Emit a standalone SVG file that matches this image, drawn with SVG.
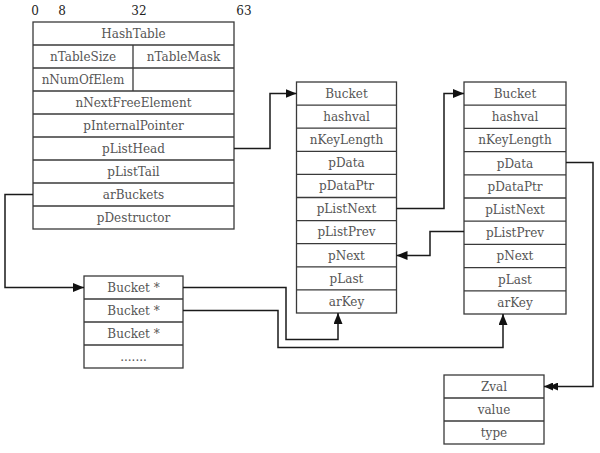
<svg xmlns="http://www.w3.org/2000/svg" width="600" height="453" viewBox="0 0 600 453">
<style>
  .box { fill: #ffffff; stroke: #3a3a3a; stroke-width: 1.3; }
  .sep { stroke: #3a3a3a; stroke-width: 1.3; }
  .t { font-family: "DejaVu Serif", "Liberation Serif", serif; font-size: 12px; fill: #555555; text-anchor: middle; }
  .hdr { font-family: "DejaVu Serif", "Liberation Serif", serif; font-size: 12px; fill: #222222; text-anchor: middle; }
  .conn { fill: none; stroke: #1a1a1a; stroke-width: 1.5; }
</style>
<defs>
  <marker id="arrow" markerUnits="userSpaceOnUse" markerWidth="11" markerHeight="9" refX="11" refY="4.5" orient="auto">
    <path d="M0,0 L11,4.5 L0,9 Z" fill="#111"/>
  </marker>
  <marker id="arrow2" markerUnits="userSpaceOnUse" markerWidth="14" markerHeight="8" refX="14" refY="4" orient="auto">
    <path d="M0,0 L9,4 L0,8 Z M5,0 L14,4 L5,8 Z" fill="#111"/>
  </marker>
</defs>
<rect width="600" height="453" fill="#ffffff"/>

<g id="bit-labels">
  <text class="hdr" x="35" y="15">0</text>
  <text class="hdr" x="62" y="15">8</text>
  <text class="hdr" x="139" y="15">32</text>
  <text class="hdr" x="244" y="15">63</text>
</g>

<g id="hashtable">
  <rect class="box" x="33" y="22" width="201" height="207"/>
  <line class="sep" x1="33" y1="45" x2="234" y2="45"/>
  <line class="sep" x1="33" y1="68" x2="234" y2="68"/>
  <line class="sep" x1="33" y1="91" x2="234" y2="91"/>
  <line class="sep" x1="33" y1="114" x2="234" y2="114"/>
  <line class="sep" x1="33" y1="137" x2="234" y2="137"/>
  <line class="sep" x1="33" y1="160" x2="234" y2="160"/>
  <line class="sep" x1="33" y1="183" x2="234" y2="183"/>
  <line class="sep" x1="33" y1="206" x2="234" y2="206"/>
  <line class="sep" x1="133" y1="45" x2="133" y2="91"/>
  <text class="t" x="133.5" y="37.8">HashTable</text>
  <text class="t" x="83" y="60.8">nTableSize</text>
  <text class="t" x="183.5" y="60.8">nTableMask</text>
  <text class="t" x="83" y="83.8">nNumOfElem</text>
  <text class="t" x="133.5" y="106.8">nNextFreeElement</text>
  <text class="t" x="133.5" y="129.8">pInternalPointer</text>
  <text class="t" x="133.5" y="152.8">pListHead</text>
  <text class="t" x="133.5" y="175.8">pListTail</text>
  <text class="t" x="133.5" y="198.8">arBuckets</text>
  <text class="t" x="133.5" y="221.8">pDestructor</text>
</g>

<g id="bucket1">
  <rect class="box" x="296.5" y="82" width="100" height="231"/>
  <line class="sep" x1="296.5" y1="105.1" x2="396.5" y2="105.1"/>
  <line class="sep" x1="296.5" y1="128.2" x2="396.5" y2="128.2"/>
  <line class="sep" x1="296.5" y1="151.3" x2="396.5" y2="151.3"/>
  <line class="sep" x1="296.5" y1="174.4" x2="396.5" y2="174.4"/>
  <line class="sep" x1="296.5" y1="197.5" x2="396.5" y2="197.5"/>
  <line class="sep" x1="296.5" y1="220.6" x2="396.5" y2="220.6"/>
  <line class="sep" x1="296.5" y1="243.7" x2="396.5" y2="243.7"/>
  <line class="sep" x1="296.5" y1="266.8" x2="396.5" y2="266.8"/>
  <line class="sep" x1="296.5" y1="289.9" x2="396.5" y2="289.9"/>
  <text class="t" x="346.5" y="97.8">Bucket</text>
  <text class="t" x="346.5" y="120.9">hashval</text>
  <text class="t" x="346.5" y="144">nKeyLength</text>
  <text class="t" x="346.5" y="167.1">pData</text>
  <text class="t" x="346.5" y="190.2">pDataPtr</text>
  <text class="t" x="346.5" y="213.3">pListNext</text>
  <text class="t" x="346.5" y="236.4">pListPrev</text>
  <text class="t" x="346.5" y="259.5">pNext</text>
  <text class="t" x="346.5" y="282.6">pLast</text>
  <text class="t" x="346.5" y="305.7">arKey</text>
</g>

<g id="bucket2">
  <rect class="box" x="464" y="82" width="102" height="232"/>
  <line class="sep" x1="464" y1="105.2" x2="566" y2="105.2"/>
  <line class="sep" x1="464" y1="128.4" x2="566" y2="128.4"/>
  <line class="sep" x1="464" y1="151.6" x2="566" y2="151.6"/>
  <line class="sep" x1="464" y1="174.8" x2="566" y2="174.8"/>
  <line class="sep" x1="464" y1="198" x2="566" y2="198"/>
  <line class="sep" x1="464" y1="221.2" x2="566" y2="221.2"/>
  <line class="sep" x1="464" y1="244.4" x2="566" y2="244.4"/>
  <line class="sep" x1="464" y1="267.6" x2="566" y2="267.6"/>
  <line class="sep" x1="464" y1="290.8" x2="566" y2="290.8"/>
  <text class="t" x="515" y="97.9">Bucket</text>
  <text class="t" x="515" y="121.1">hashval</text>
  <text class="t" x="515" y="144.3">nKeyLength</text>
  <text class="t" x="515" y="167.5">pData</text>
  <text class="t" x="515" y="190.7">pDataPtr</text>
  <text class="t" x="515" y="213.9">pListNext</text>
  <text class="t" x="515" y="237.1">pListPrev</text>
  <text class="t" x="515" y="260.3">pNext</text>
  <text class="t" x="515" y="283.5">pLast</text>
  <text class="t" x="515" y="306.7">arKey</text>
</g>

<g id="bucket-array">
  <rect class="box" x="84" y="276" width="99" height="92"/>
  <line class="sep" x1="84" y1="299" x2="183" y2="299"/>
  <line class="sep" x1="84" y1="322" x2="183" y2="322"/>
  <line class="sep" x1="84" y1="345" x2="183" y2="345"/>
  <text class="t" x="133.5" y="291.8">Bucket *</text>
  <text class="t" x="133.5" y="314.8">Bucket *</text>
  <text class="t" x="133.5" y="337.8">Bucket *</text>
  <text class="t" x="133.5" y="360.8">.......</text>
</g>

<g id="zval">
  <rect class="box" x="444" y="375" width="100" height="69"/>
  <line class="sep" x1="444" y1="398" x2="544" y2="398"/>
  <line class="sep" x1="444" y1="421" x2="544" y2="421"/>
  <text class="t" x="494" y="390.8">Zval</text>
  <text class="t" x="494" y="413.8">value</text>
  <text class="t" x="494" y="436.8">type</text>
</g>

<g id="connectors">
  <path class="conn" d="M234,148.5 H270 V93.5 H296.5" marker-end="url(#arrow)"/>
  <path class="conn" d="M33,194.5 H5 V287.5 H84" marker-end="url(#arrow)"/>
  <path class="conn" d="M183,287.5 H286 V339.5 H338 V313" marker-end="url(#arrow)"/>
  <path class="conn" d="M183,310.5 H278 V347.5 H503 V314" marker-end="url(#arrow)"/>
  <path class="conn" d="M396.5,208.5 H444 V93.5 H464" marker-end="url(#arrow)"/>
  <path class="conn" d="M464,231.5 H430 V255.5 H396.5" marker-end="url(#arrow)"/>
  <path class="conn" d="M566,162.5 H593 V386.5 H544" marker-end="url(#arrow2)"/>
</g>
</svg>
